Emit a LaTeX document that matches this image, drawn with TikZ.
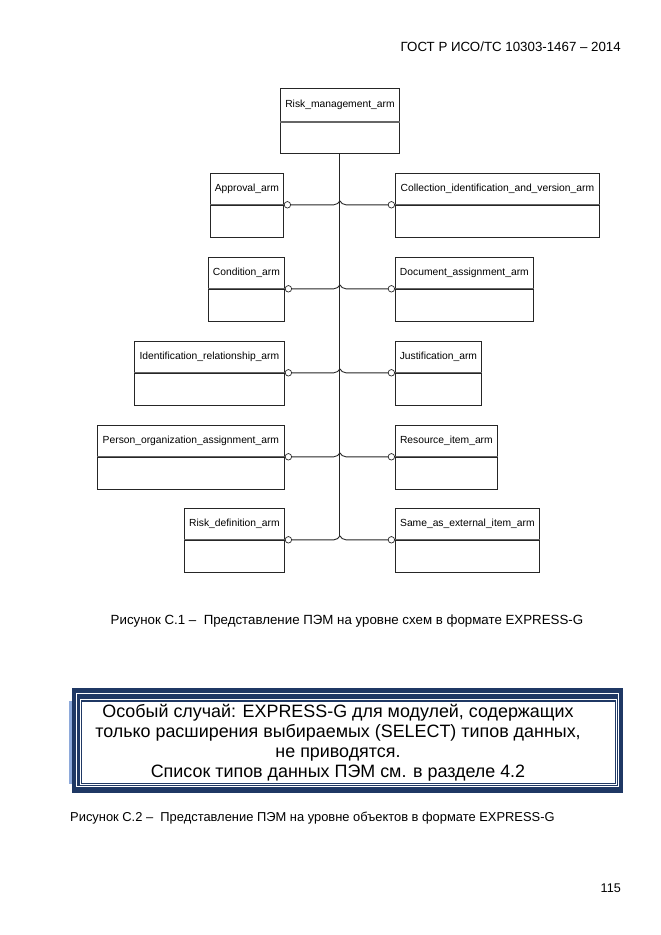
\documentclass[tikz,border=0pt]{standalone}
\usepackage{fontspec}
\setmainfont{Liberation Sans}
\usetikzlibrary{calc}
\definecolor{navy}{HTML}{1F3864}
\definecolor{stripe}{HTML}{8EAADB}
\begin{document}
\begin{tikzpicture}[x=1pt,y=-1pt,
  hdr/.style={draw=black!85, line width=0.8pt, minimum height=31pt, inner sep=0pt, anchor=north west, font=\fontsize{10.3}{12}\selectfont},
  bdy/.style={draw=black!85, line width=0.8pt, minimum height=32pt, inner sep=0pt, anchor=north west},
  divline/.style={draw=black!60, line width=1.3pt},
  circ/.style={circle, draw=black!85, line width=0.7pt, fill=white, minimum size=6.5pt, inner sep=0pt},
  conn/.style={draw=black!85, line width=0.9pt},
  captxt/.style={font=\fontsize{13.1}{15}\selectfont, inner sep=0pt}
]
\useasboundingbox (0,0) rectangle (661,935);

% header and page number
\node[captxt, anchor=east, font=\fontsize{13.3}{16}\selectfont] (hd) at (621,47) {ГОСТ Р ИСО/ТС 10303-1467 – 2014};
\node[captxt, anchor=east, font=\fontsize{12.6}{15}\selectfont] (pg) at (621,888) {115};

% top entity
\node[hdr, minimum width=119pt, minimum height=33pt, line width=0.9pt] (top) at (280,88) {Risk\_management\_arm};
\node[bdy, minimum width=119pt, minimum height=31pt] (topb) at (top.south west) {};
\draw[divline] (top.south west) -- (top.south east);

% left entities
\node[hdr, minimum width=73pt] (a1) at (210,173) {Approval\_arm};
\node[bdy, minimum width=73pt] (a1b) at (a1.south west) {};
\node[hdr, minimum width=76pt] (a2) at (208,257) {Condition\_arm};
\node[bdy, minimum width=76pt] (a2b) at (a2.south west) {};
\node[hdr, minimum width=150pt] (a3) at (134,341) {Identification\_relationship\_arm};
\node[bdy, minimum width=150pt] (a3b) at (a3.south west) {};
\node[hdr, minimum width=187pt] (a4) at (97,425) {Person\_organization\_assignment\_arm};
\node[bdy, minimum width=187pt] (a4b) at (a4.south west) {};
\node[hdr, minimum width=100pt] (a5) at (184,508) {Risk\_definition\_arm};
\node[bdy, minimum width=100pt] (a5b) at (a5.south west) {};

% right entities
\node[hdr, minimum width=204pt] (b1) at (395,173) {Collection\_identification\_and\_version\_arm};
\node[bdy, minimum width=204pt] (b1b) at (b1.south west) {};
\node[hdr, minimum width=138pt] (b2) at (395,257) {Document\_assignment\_arm};
\node[bdy, minimum width=138pt] (b2b) at (b2.south west) {};
\node[hdr, minimum width=86pt] (b3) at (395,341) {Justification\_arm};
\node[bdy, minimum width=86pt] (b3b) at (b3.south west) {};
\node[hdr, minimum width=102pt] (b4) at (395,425) {Resource\_item\_arm};
\node[bdy, minimum width=102pt] (b4b) at (b4.south west) {};
\node[hdr, minimum width=144pt] (b5) at (395,508) {Same\_as\_external\_item\_arm};
\node[bdy, minimum width=144pt] (b5b) at (b5.south west) {};

% dividers and circles
\foreach \i in {1,...,5}{
  \draw[divline] (a\i.south west) -- (a\i.south east);
  \draw[divline] (b\i.south west) -- (b\i.south east);
  \node[circ, anchor=west] (ac\i) at (a\i.south east) {};
  \node[circ, anchor=east] (bc\i) at (b\i.south west) {};
}

% junction points on the trunk
\foreach \i in {1,...,5}{
  \coordinate (j\i) at ($(topb.south |- ac\i.east)+(0,-4)$);
}

% trunk
\draw[conn] (topb.south) -- (j5);

% hooks
\foreach \i in {1,...,5}{
  \draw[conn] (ac\i.east) -- ($(j\i |- ac\i.east)+(-6,0)$) .. controls +(3,0) and +(-1,2) .. (j\i);
  \draw[conn] (j\i) .. controls +(1,2) and +(-3,0) .. ($(j\i |- bc\i.west)+(6,0)$) -- (bc\i.west);
}

% caption 1
\node[captxt, font=\fontsize{13.3}{15}\selectfont] (cap1) at (347,621) {Рисунок С.1 –\ \ Представление ПЭМ на уровне схем в формате EXPRESS-G};

% framed note
\fill[navy] (72,688) rectangle (623,793);
\fill[stripe] (68.5,700.5) rectangle (71.5,784);
\draw[white, line width=1.2pt] (76.5,693.5) rectangle (618.5,786.5);
\draw[white, line width=0.8pt] (80.5,699.8) rectangle (616.5,784.6);
\fill[white] (82,702) rectangle (615,783);
\node[align=center, inner sep=0pt, font=\fontsize{17.9}{20}\selectfont] (note) at (338,743)
  {Особый случай: EXPRESS-G для модулей, содержащих\\
   только расширения выбираемых (SELECT) типов данных,\\
   не приводятся.\\
   Список типов данных ПЭМ см. в разделе 4.2};

% caption 2
\node[captxt, anchor=west, font=\fontsize{12.9}{15}\selectfont] (cap2) at (70,818) {Рисунок С.2 –\ \ Представление ПЭМ на уровне объектов в формате EXPRESS-G};
\end{tikzpicture}
\end{document}
